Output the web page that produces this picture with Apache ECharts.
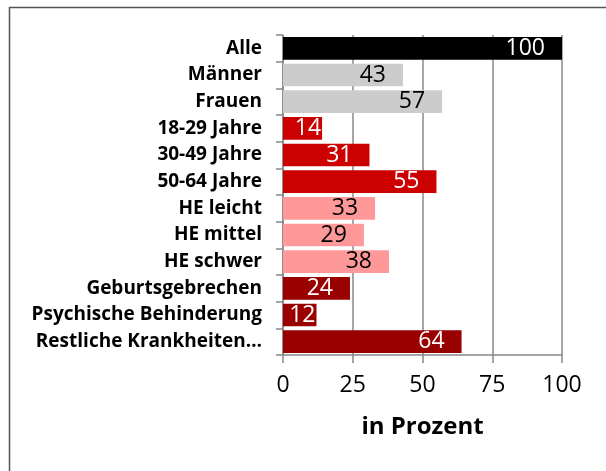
<!DOCTYPE html>
<html>
<head>
<meta charset="utf-8">
<script src="https://cdn.jsdelivr.net/npm/echarts@6/dist/echarts.min.js"></script>
<style>
  html, body { margin: 0; padding: 0; background: #fff; }
  #chart { width: 606px; height: 471px; }
</style>
</head>
<body>
<div id="chart"></div>
<script>
// Kategorien und Werte (in Prozent)
const categories = [
  'Alle', 'Männer', 'Frauen', '18-29 Jahre', '30-49 Jahre', '50-64 Jahre',
  'HE leicht', 'HE mittel', 'HE schwer', 'Geburtsgebrechen',
  'Psychische Behinderung', 'Restliche Krankheiten…'
];
const values = [100, 43, 57, 14, 31, 55, 33, 29, 38, 24, 12, 64];
const groups = ['total', 'sex', 'sex', 'age', 'age', 'age', 'he', 'he', 'he', 'cause', 'cause', 'cause'];
const xTicks = [0, 25, 50, 75, 100];

// Farben je Gruppe
const fill = { total: '#000000', sex: '#cccccc', age: '#cc0000', he: '#ff9999', cause: '#990000' };
const ink = { total: '#ffffff', sex: '#000000', age: '#ffffff', he: '#000000', cause: '#ffffff' };

const font = '"Open Sans", "Noto Sans", sans-serif';

let myChart = echarts.init(document.getElementById('chart'));
myChart.setOption({
  animation: false,
  graphic: [{
    type: 'rect',
    left: 7, top: 5,
    shape: { width: 640, height: 500 },
    style: { fill: 'none', stroke: '#555', lineWidth: 1.5 },
    silent: true
  }],
  grid: { left: 283, top: 35, right: 44, bottom: 116 },
  xAxis: {
    type: 'value',
    min: xTicks[0],
    max: xTicks[xTicks.length - 1],
    interval: 25,
    name: 'in Prozent',
    nameLocation: 'middle',
    nameGap: 60,
    nameTextStyle: { fontFamily: font, fontWeight: 'bold', fontSize: 24, color: '#000' },
    axisLine: { show: true, lineStyle: { color: '#888', width: 1.5 } },
    axisTick: { show: true, length: 8, lineStyle: { color: '#888', width: 1.5 } },
    axisLabel: { margin: 19, fontFamily: font, fontSize: 23, color: '#000' },
    splitLine: { show: true, lineStyle: { color: '#888', width: 1.5 } }
  },
  yAxis: {
    type: 'category',
    inverse: true,
    data: categories,
    axisLine: { show: true, lineStyle: { color: '#888', width: 1.5 } },
    axisTick: { show: true, length: 7, lineStyle: { color: '#888', width: 1.5 } },
    axisLabel: { margin: 21, fontFamily: font, fontWeight: 'bold', fontSize: 19, color: '#000' }
  },
  series: [{
    type: 'bar',
    barCategoryGap: '15%',
    data: values.map((v, i) => ({
      value: v,
      itemStyle: { color: fill[groups[i]] },
      label: { color: ink[groups[i]], distance: v < 20 ? 1 : 17 }
    })),
    label: {
      show: true,
      position: 'insideRight',
      fontFamily: font,
      fontSize: 23
    }
  }]
});
</script>
</body>
</html>
